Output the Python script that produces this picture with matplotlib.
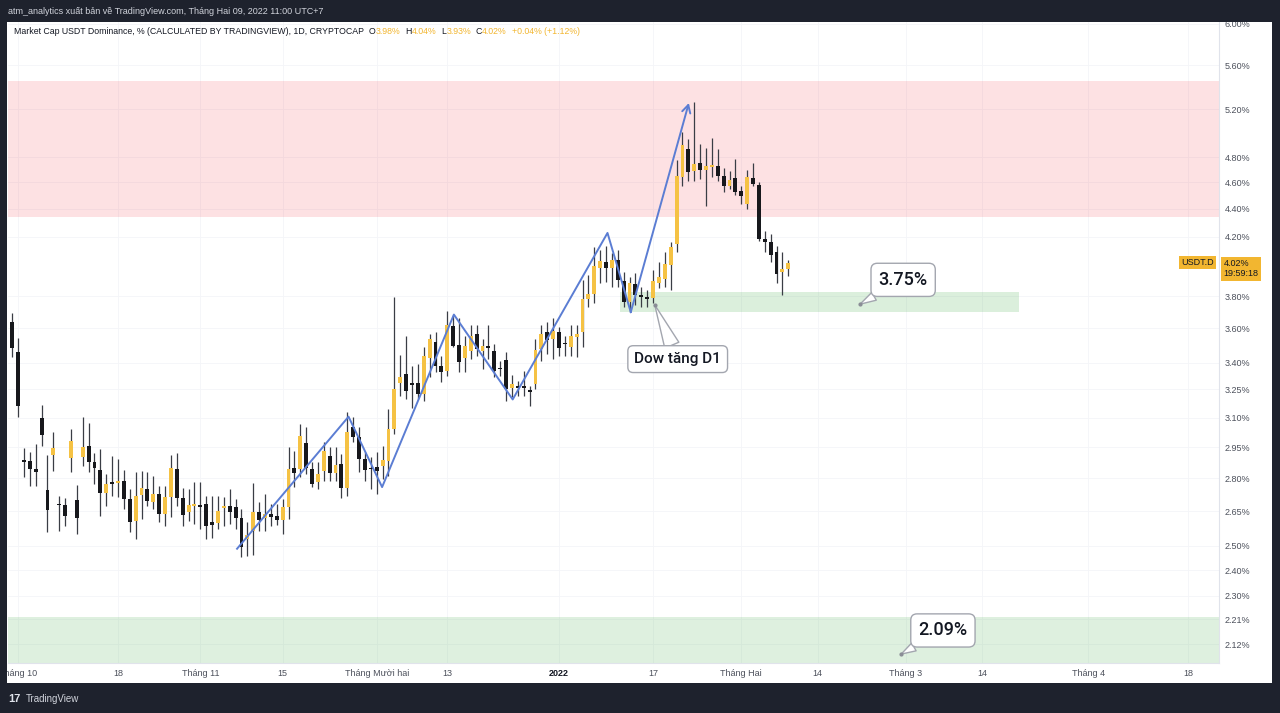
import matplotlib
matplotlib.use('Agg')
import matplotlib.pyplot as plt
import matplotlib.dates as mdates
import matplotlib.patches as mpatches
from matplotlib.ticker import NullLocator
import numpy as np
import pandas as pd

plt.rcParams['font.family'] = ['Liberation Sans', 'DejaVu Sans']

# USDT.D daily candles (%), 30 Sep 2021 .. 09 Feb 2022
dates = pd.date_range('2021-09-30', '2022-02-09', freq='D')
opens = [
    3.642, 3.463, 2.884, 2.882, 2.844, 3.100, 2.745, 2.911, 2.679, 2.677,
    2.897, 2.700, 2.902, 2.955, 2.877, 2.839, 2.732, 2.782, 2.780, 2.786,
    2.705, 2.606, 2.723, 2.750, 2.691, 2.727, 2.637, 2.714, 2.844, 2.709,
    2.646, 2.675, 2.677, 2.682, 2.602, 2.597, 2.664, 2.673, 2.668, 2.619,
    2.527, 2.562, 2.646, 2.619, 2.637, 2.628, 2.610, 2.668, 2.848, 2.844,
    2.970, 2.844, 2.782, 2.834, 2.906, 2.824, 2.868, 2.754, 3.050, 3.000,
    2.892, 2.845, 2.853, 2.858, 2.882, 3.040, 3.285, 3.337, 3.280, 3.285,
    3.223, 3.429, 3.520, 3.383, 3.354, 3.618, 3.503, 3.429, 3.469, 3.566,
    3.469, 3.497, 3.469, 3.366, 3.417, 3.256, 3.267, 3.267, 3.240, 3.279,
    3.480, 3.577, 3.537, 3.577, 3.510, 3.491, 3.549, 3.577, 3.782, 3.813,
    3.987, 4.028, 3.987, 4.041, 3.900, 3.764, 3.880, 3.807, 3.794, 3.788,
    3.887, 3.913, 4.007, 4.145, 4.638, 4.868, 4.685, 4.754, 4.700, 4.723,
    4.731, 4.646, 4.570, 4.631, 4.533, 4.437, 4.631, 4.578, 4.186, 4.159,
    4.090, 3.960, 3.980,
]
highs = [
    3.697, 3.543, 2.945, 2.926, 2.965, 3.164, 2.911, 3.025, 2.718, 2.709,
    3.040, 2.768, 3.105, 3.070, 2.921, 2.940, 2.819, 2.906, 2.892, 2.839,
    2.750, 2.829, 2.834, 2.829, 2.810, 2.763, 2.763, 2.911, 2.921, 2.754,
    2.750, 2.782, 2.782, 2.718, 2.718, 2.718, 2.714, 2.750, 2.705, 2.659,
    2.602, 2.777, 2.691, 2.727, 2.682, 2.682, 2.705, 2.950, 2.931, 3.065,
    3.050, 2.877, 2.877, 2.975, 2.950, 2.950, 2.916, 3.127, 3.105, 3.050,
    2.926, 2.902, 2.926, 2.955, 3.143, 3.794, 3.446, 3.554, 3.383, 3.394,
    3.491, 3.566, 3.577, 3.440, 3.709, 3.685, 3.661, 3.554, 3.624, 3.624,
    3.537, 3.624, 3.509, 3.411, 3.463, 3.331, 3.296, 3.354, 3.267, 3.537,
    3.624, 3.642, 3.667, 3.612, 3.554, 3.624, 3.624, 3.907, 3.940, 4.124,
    4.110, 4.131, 4.083, 4.110, 3.960, 3.927, 3.953, 3.860, 3.840, 3.973,
    4.028, 4.090, 4.159, 4.777, 5.004, 4.944, 5.264, 4.902, 4.877, 4.953,
    4.868, 4.715, 4.685, 4.785, 4.570, 4.700, 4.754, 4.600, 4.237, 4.215,
    4.131, 4.090, 4.040,
]
lows = [
    3.434, 3.105, 2.805, 2.763, 2.763, 2.955, 2.558, 2.834, 2.562, 2.584,
    2.829, 2.549, 2.858, 2.829, 2.772, 2.628, 2.673, 2.718, 2.714, 2.659,
    2.558, 2.531, 2.615, 2.673, 2.659, 2.602, 2.584, 2.624, 2.673, 2.584,
    2.606, 2.593, 2.571, 2.527, 2.535, 2.571, 2.584, 2.593, 2.571, 2.452,
    2.456, 2.464, 2.562, 2.562, 2.584, 2.588, 2.549, 2.615, 2.759, 2.805,
    2.819, 2.759, 2.750, 2.786, 2.786, 2.786, 2.709, 2.718, 2.975, 2.829,
    2.786, 2.750, 2.727, 2.795, 2.810, 3.015, 3.212, 3.196, 3.153, 3.196,
    3.186, 3.319, 3.348, 3.290, 3.325, 3.491, 3.348, 3.348, 3.423, 3.440,
    3.365, 3.423, 3.319, 3.325, 3.186, 3.207, 3.212, 3.212, 3.159, 3.250,
    3.411, 3.451, 3.423, 3.440, 3.440, 3.440, 3.434, 3.491, 3.733, 3.758,
    3.887, 3.893, 3.860, 3.860, 3.733, 3.703, 3.745, 3.733, 3.733, 3.758,
    3.853, 3.860, 3.840, 4.090, 4.570, 4.608, 4.608, 4.623, 4.422, 4.638,
    4.608, 4.526, 4.548, 4.504, 4.437, 4.400, 4.570, 4.166, 4.090, 4.028,
    3.887, 3.807, 3.930,
]
closes = [
    3.486, 3.159, 2.880, 2.844, 2.829, 3.010, 2.655, 2.945, 2.677, 2.628,
    2.980, 2.619, 2.950, 2.877, 2.848, 2.732, 2.772, 2.772, 2.784, 2.705,
    2.602, 2.718, 2.754, 2.695, 2.727, 2.637, 2.714, 2.848, 2.709, 2.632,
    2.677, 2.679, 2.668, 2.584, 2.588, 2.650, 2.673, 2.646, 2.619, 2.496,
    2.544, 2.646, 2.610, 2.637, 2.624, 2.610, 2.668, 2.844, 2.824, 3.005,
    2.848, 2.772, 2.819, 2.931, 2.824, 2.863, 2.754, 3.025, 3.000, 2.892,
    2.839, 2.843, 2.834, 2.887, 3.040, 3.250, 3.319, 3.239, 3.275, 3.223,
    3.440, 3.537, 3.383, 3.348, 3.624, 3.497, 3.406, 3.497, 3.554, 3.480,
    3.497, 3.486, 3.354, 3.362, 3.250, 3.279, 3.256, 3.256, 3.238, 3.474,
    3.566, 3.531, 3.583, 3.486, 3.505, 3.554, 3.566, 3.782, 3.813, 4.000,
    4.034, 3.987, 4.041, 3.907, 3.764, 3.887, 3.807, 3.794, 3.782, 3.900,
    3.927, 4.014, 4.124, 4.646, 4.894, 4.677, 4.746, 4.700, 4.731, 4.738,
    4.646, 4.570, 4.615, 4.526, 4.496, 4.638, 4.585, 4.186, 4.159, 4.069,
    3.947, 3.975, 4.020,
]

# Dow zigzag drawn on the chart
zig_dates = ['2021-11-07 06:00', '2021-11-26 05:00', '2021-12-01 22:00',
             '2021-12-14 03:00', '2021-12-24 03:00', '2022-01-09 06:00',
             '2022-01-13 05:00', '2022-01-23 02:00']
zig_values = [2.488, 3.105, 2.759, 3.685, 3.196, 4.226, 3.700, 5.255]

# zones
resist_zone = (4.34, 5.45)
support_zone = (3.70, 3.83)
support_zone_dates = ['2022-01-11 10:00', '2022-03-20 05:00']
low_zone = (2.00, 2.22)

# callouts
callout_texts = ['Dow tăng D1', '3.75%', '2.09%']
callout_dates = ['2022-01-17 07:00', '2022-02-21 05:00', '2022-02-28 05:00']
callout_values = [3.745, 3.75, 2.085]

price_ticks = [2.12, 2.21, 2.30, 2.40, 2.50, 2.65, 2.80, 2.95, 3.10, 3.25,
               3.40, 3.60, 3.80, 4.20, 4.40, 4.60, 4.80, 5.20, 5.60, 6.00]
time_tick_dates = ['2021-10-01', '2021-10-18', '2021-11-01', '2021-11-15',
                   '2021-12-01', '2021-12-13', '2022-01-01', '2022-01-17',
                   '2022-02-01', '2022-02-14', '2022-03-01', '2022-03-14',
                   '2022-04-01', '2022-04-18']
time_tick_labels = ['Tháng 10', '18', 'Tháng 11', '15', 'Tháng Mười hai', '13',
                    '2022', '17', 'Tháng Hai', '14', 'Tháng 3', '14',
                    'Tháng 4', '18']

DARK = '#1e222d'
TXT = '#131722'
AXTXT = '#4c505b'
AMBER = '#f2b630'
YEL = '#f5c244'
BLUE = '#5b7dd3'
W, H = 1280, 713

fig = plt.figure(figsize=(12.8, 7.13), dpi=100, facecolor=DARK)

# white chart panel
fig.add_artist(mpatches.Rectangle((7 / W, 1 - 683 / H), 1265 / W, 661 / H,
                                  transform=fig.transFigure, fc='white',
                                  ec='none', zorder=-1))

ax = fig.add_axes([8 / W, 50 / H, 1211 / W, 641 / H])
ax.set_facecolor('white')

# candles
x = mdates.date2num(dates)
o, h, l, c = (np.array(v) for v in (opens, highs, lows, closes))
up = c >= o
lo = np.minimum(o, c)
hi = np.maximum(o, c)
body = np.maximum(hi - lo, hi * 0.0025)

ax.vlines(x, l, h, colors='#3a3d45', linewidth=0.9, zorder=3)
ax.bar(x[up], body[up], bottom=lo[up], width=0.66, color=YEL, linewidth=0, zorder=4)
ax.bar(x[~up], body[~up], bottom=lo[~up], width=0.66, color='#17181c', linewidth=0, zorder=4)

# zones
ax.axhspan(*resist_zone, color='#f23645', alpha=0.15, lw=0, zorder=1)
ax.axhspan(*low_zone, color='#4caf50', alpha=0.18, lw=0, zorder=1)
sx = mdates.date2num(pd.to_datetime(support_zone_dates))
ax.fill_between(sx, support_zone[0], support_zone[1], color='#4caf50',
                alpha=0.2, lw=0, zorder=1)

# zigzag with arrow
zx = mdates.date2num(pd.to_datetime(zig_dates))
ax.plot(zx[:-1], zig_values[:-1], color=BLUE, lw=1.4, zorder=5)
ax.annotate('', xy=(zx[-1], zig_values[-1]), xytext=(zx[-2], zig_values[-2]),
            arrowprops=dict(arrowstyle='->,head_length=0.55,head_width=0.3',
                            color=BLUE, lw=1.4, shrinkA=0, shrinkB=0), zorder=5)

# callouts
offsets = [(16.5, -39), (31, 17.5), (30, 17)]
sizes = [11, 13, 13]
tails = [1.0, 0.5, 0.5]
cx = mdates.date2num(pd.to_datetime(callout_dates))
for txt, d, v, off, fs, tw in zip(callout_texts, cx, callout_values, offsets, sizes, tails):
    ax.annotate(txt, xy=(d, v), xytext=off, textcoords='offset points',
                ha='center', va='center', fontsize=fs, fontfamily=['Roboto', 'DejaVu Sans'],
                fontweight='medium', color=TXT, zorder=7,
                bbox=dict(boxstyle='round,pad=0.42,rounding_size=0.35', fc='white',
                          ec='#a3a6af', lw=1),
                arrowprops=dict(arrowstyle=f'wedge,tail_width={tw},shrink_factor=0.5',
                                fc='white', ec='#a3a6af', lw=1, shrinkA=0, shrinkB=0))
    ax.plot(d, v, 'o', ms=2, color='#8a8d96', zorder=7)

# axes
ax.set_yscale('log')
ax.set_ylim(2.054, 6.02)
ax.set_xlim(mdates.date2num(pd.Timestamp('2021-09-29 07:00')),
            mdates.date2num(pd.Timestamp('2022-04-23 06:00')))
ax.yaxis.tick_right()
ax.yaxis.set_minor_locator(NullLocator())
ax.set_yticks(price_ticks)
ax.set_yticklabels([f'{v:.2f}%' for v in price_ticks])
ax.set_xticks(mdates.date2num(pd.to_datetime(time_tick_dates)))
ax.set_xticklabels(time_tick_labels)
ax.xaxis.set_minor_locator(NullLocator())
ax.tick_params(axis='y', length=0, pad=4, labelsize=6.5, labelcolor=AXTXT)
ax.tick_params(axis='x', length=0, pad=4.5, labelsize=6.5, labelcolor=AXTXT)
for lab in ax.get_xticklabels():
    if lab.get_text() == '2022':
        lab.set_fontweight('bold')
        lab.set_color(TXT)
ax.grid(True, color='#f4f5f8', lw=0.6)
ax.set_axisbelow(True)
for side in ('top', 'left'):
    ax.spines[side].set_visible(False)
for side in ('bottom', 'right'):
    ax.spines[side].set_color('#e0e3eb')
    ax.spines[side].set_linewidth(0.8)

# last price tags
last = closes[-1]
ax.annotate(f'{last:.2f}%\n19:59:18', xy=(1, last), xycoords=('axes fraction', 'data'),
            xytext=(3.2, -4.5), textcoords='offset points', ha='left', va='center',
            fontsize=6.5, linespacing=1.15, color=TXT, annotation_clip=False, zorder=8,
            bbox=dict(boxstyle='square,pad=0.3', fc=AMBER, ec='none'))
ax.annotate('USDT.D', xy=(1, last), xycoords=('axes fraction', 'data'),
            xytext=(-4, 0), textcoords='offset points', ha='right', va='center',
            fontsize=6.5, color=TXT, annotation_clip=False, zorder=8,
            bbox=dict(boxstyle='square,pad=0.25', fc=AMBER, ec='none'))

# dark frame covers (clip labels at the panel edge)
fig.add_artist(mpatches.Rectangle((0, 0), 7 / W, 1, transform=fig.transFigure,
                                  fc=DARK, ec='none', zorder=10))
fig.add_artist(mpatches.Rectangle((0, 1 - 22 / H), 1, 22 / H, transform=fig.transFigure,
                                  fc=DARK, ec='none', zorder=10))

fig.text(8 / W, 1 - 11 / H,
         'atm_analytics xuất bản về TradingView.com, Tháng Hai 09, 2022 11:00 UTC+7',
         color='#d1d4dc', fontsize=6.5, va='center', ha='left', zorder=11)

# legend line inside the chart
renderer = fig.canvas.get_renderer()
parts = [
    ('Market Cap USDT Dominance, % (CALCULATED BY TRADINGVIEW), 1D, CRYPTOCAP', TXT, 5),
    ('O', TXT, 0), (f'{opens[-1]:.2f}%', AMBER, 5),
    ('H', TXT, 0), (f'{highs[-1]:.2f}%', AMBER, 5),
    ('L', TXT, 0), (f'{lows[-1]:.2f}%', AMBER, 5),
    ('C', TXT, 0), (f'{closes[-1]:.2f}%', AMBER, 5),
    ('+0.04% (+1.12%)', AMBER, 0),
]
px = 14
for s, col, gap in parts:
    t = fig.text(px / W, 1 - 32 / H, s, color=col, fontsize=6.3, va='center',
                 ha='left', zorder=11)
    px += t.get_window_extent(renderer).width + gap

# TradingView logo
fig.text(8 / W, 1 - 699 / H, '17', color='#e0e3eb', fontsize=8, fontweight='bold',
         va='center', ha='left')
fig.text(26 / W, 1 - 699 / H, 'TradingView', color='#d1d4dc', fontsize=7,
         va='center', ha='left')

fig.savefig('out.png', dpi=100, facecolor=DARK)
